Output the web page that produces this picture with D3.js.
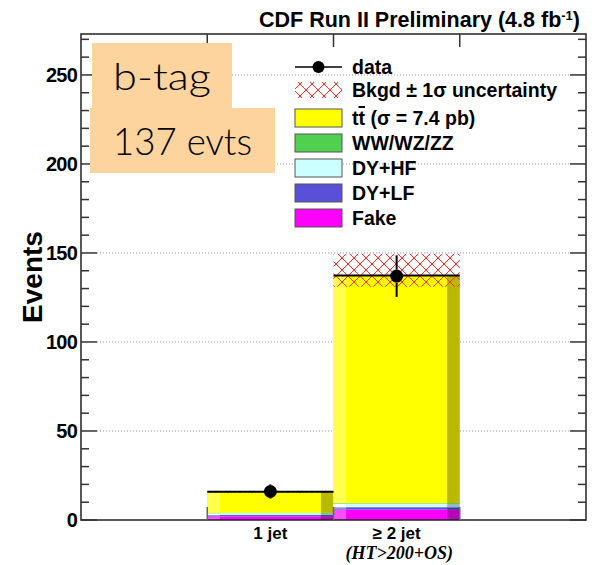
<!DOCTYPE html>
<html lang="en">
<head>
<meta charset="utf-8">
<title>CDF b-tag events</title>
<script src="https://cdn.jsdelivr.net/npm/d3@7"></script>
<style>
  body { margin: 0; background: #fff; }
  text { font-family: "Liberation Sans", Arial, sans-serif; }
</style>
</head>
<body>
<script>
// data
var bins = [1, 2];               // bin low edges (x axis 0..4)
var binLabels = ["1 jet", "\u2265 2 jet"];
var fake = [2.0, 5.8];
var dylf = [0.8, 1.4];
var dyhf = [1.0, 2.0];
var diboson = [0.2, 0.3];
var ttbar = [11.8, 127.8];
var dataVals = [16, 137];
var dataErr = [4, 11.7];
var bkgLo = [15.2, 131.0];
var bkgHi = [16.4, 149.5];
var yTicks = [0, 50, 100, 150, 200, 250];

var components = [
  { name: "Fake", vals: fake, color: "#ff00ff" },
  { name: "DY+LF", vals: dylf, color: "#5a50d8" },
  { name: "DY+HF", vals: dyhf, color: "#ccffff" },
  { name: "WW/WZ/ZZ", vals: diboson, color: "#50d050" },
  { name: "tt", vals: ttbar, color: "#ffff00" }
];

var w = 598, h = 565;
var x = d3.scaleLinear().domain([0, 4]).range([81, 586]);
var y = d3.scaleLinear().domain([0, 273]).range([520, 34]);

var svg = d3.select("body").append("svg")
  .attr("width", w).attr("height", h);

// hatch pattern for the uncertainty band
var pat = svg.append("defs").append("pattern")
  .attr("id", "hatch").attr("patternUnits", "userSpaceOnUse")
  .attr("width", 12).attr("height", 12);
pat.append("path").attr("d", "M0,0L12,12M12,0L0,12")
  .attr("stroke", "#ff3030").attr("stroke-width", 1);

// dotted grid lines
svg.selectAll(".grid").data(yTicks.filter(function(d) { return d > 0; }))
  .enter().append("line")
  .attr("x1", x(0) + 16).attr("x2", x(4) - 16)
  .attr("y1", function(d) { return y(d); }).attr("y2", function(d) { return y(d); })
  .attr("stroke", "#999").attr("stroke-dasharray", "1,2");

// stacked bars, with light left strip and dark right strip
var segs = [];
bins.forEach(function(b, i) {
  var base = 0;
  components.forEach(function(c) {
    segs.push({ bin: b, y0: base, y1: base + c.vals[i], color: c.color });
    base += c.vals[i];
  });
});
var bw = x(1) - x(0);
var strip = 0.1 * bw;
var g = svg.append("g");
segs.forEach(function(s) {
  var x0 = x(s.bin), x1 = x(s.bin + 1);
  var c = d3.hsl(s.color);
  var light = d3.hsl(c.h, c.s, Math.min(1, c.l + 0.15));
  var dark = d3.rgb(s.color).darker(0.9);
  var top = y(s.y1), ht = y(s.y0) - y(s.y1);
  g.append("rect").attr("x", x0).attr("y", top).attr("width", x1 - x0).attr("height", ht)
    .attr("fill", s.color);
  g.append("rect").attr("x", x0).attr("y", top).attr("width", strip).attr("height", ht)
    .attr("fill", light.toString());
  g.append("rect").attr("x", x1 - strip).attr("y", top).attr("width", strip).attr("height", ht)
    .attr("fill", dark.toString());
});

// uncertainty band
svg.selectAll(".unc").data(bins).enter().append("rect")
  .attr("x", function(d) { return x(d); })
  .attr("width", bw)
  .attr("y", function(d, i) { return y(bkgHi[i]); })
  .attr("height", function(d, i) { return y(bkgLo[i]) - y(bkgHi[i]); })
  .attr("fill", "url(#hatch)");

// black line on top of the stack
svg.selectAll(".tot").data(bins).enter().append("line")
  .attr("x1", function(d) { return x(d); })
  .attr("x2", function(d) { return x(d + 1); })
  .attr("y1", function(d, i) { return y(d3.sum(components, function(c) { return c.vals[i]; })); })
  .attr("y2", function(d, i) { return y(d3.sum(components, function(c) { return c.vals[i]; })); })
  .attr("stroke", "#000").attr("stroke-width", 2);

// data points
var r = 6.5;
bins.forEach(function(b, i) {
  var cx = x(b + 0.5), cy = y(dataVals[i]);
  var up = y(dataVals[i] + dataErr[i]), dn = y(dataVals[i] - dataErr[i]);
  if (cy - up > r) svg.append("line").attr("x1", cx).attr("x2", cx).attr("y1", up).attr("y2", cy - r)
    .attr("stroke", "#000").attr("stroke-width", 2);
  if (dn - cy > r) svg.append("line").attr("x1", cx).attr("x2", cx).attr("y1", cy + r).attr("y2", dn)
    .attr("stroke", "#000").attr("stroke-width", 2);
  svg.append("circle").attr("cx", cx).attr("cy", cy).attr("r", r).attr("fill", "#000");
});

// frame and ticks
svg.append("rect").attr("x", x(0)).attr("y", y(273)).attr("width", x(4) - x(0)).attr("height", y(0) - y(273))
  .attr("fill", "none").attr("stroke", "#222").attr("stroke-width", 1.5);
var minor = d3.range(0, 271, 10);
minor.forEach(function(v) {
  var major = v % 50 === 0;
  var len = major ? 16 : 8;
  svg.append("line").attr("x1", x(0)).attr("x2", x(0) + len).attr("y1", y(v)).attr("y2", y(v))
    .attr("stroke", "#333").attr("stroke-width", 1.5);
  svg.append("line").attr("x1", x(4)).attr("x2", x(4) - len).attr("y1", y(v)).attr("y2", y(v))
    .attr("stroke", "#333").attr("stroke-width", 1.5);
});
[1, 2, 3].forEach(function(v) {
  svg.append("line").attr("x1", x(v)).attr("x2", x(v)).attr("y1", y(273)).attr("y2", y(273) + 13)
    .attr("stroke", "#333").attr("stroke-width", 1.5);
  svg.append("line").attr("x1", x(v)).attr("x2", x(v)).attr("y1", y(0)).attr("y2", y(0) - 13)
    .attr("stroke", "#666").attr("stroke-width", 1.5);
});

// y tick labels
svg.selectAll(".ylab").data(yTicks).enter().append("text")
  .attr("x", 77).attr("y", function(d) { return y(d) + 7; })
  .attr("text-anchor", "end").attr("font-size", 20).attr("font-weight", "bold")
  .attr("letter-spacing", -0.8)
  .text(function(d) { return d; });

svg.append("text")
  .attr("transform", "translate(42," + 277 + ") rotate(-90)")
  .attr("text-anchor", "middle").attr("font-size", 28).attr("font-weight", "bold")
  .text("Events");

// x labels
svg.selectAll(".xlab").data(bins).enter().append("text")
  .attr("x", function(d) { return x(d + 0.5); }).attr("y", 539)
  .attr("text-anchor", "middle").attr("font-size", 17).attr("font-weight", "bold")
  .text(function(d, i) { return binLabels[i]; });
svg.append("text").attr("x", x(2.52)).attr("y", 559)
  .attr("text-anchor", "middle").attr("font-size", 18).attr("font-weight", "bold")
  .attr("font-style", "italic").style("font-family", "'Liberation Serif', serif")
  .text("(HT>200+OS)");

// title
var t = svg.append("text").attr("x", 580).attr("y", 27).attr("text-anchor", "end")
  .attr("font-size", 21.5).attr("font-weight", "bold");
t.append("tspan").text("CDF Run II Preliminary (4.8 fb");
t.append("tspan").attr("dy", -7).attr("font-size", 13).text("-1");
t.append("tspan").attr("dy", 7).text(")");

// legend
var lx = 295, lw = 47, tx = 352;
var rows = [67, 90, 118, 143, 168, 193, 218];
svg.append("line").attr("x1", lx).attr("x2", lx + lw).attr("y1", rows[0]).attr("y2", rows[0])
  .attr("stroke", "#000").attr("stroke-width", 1.5);
svg.append("circle").attr("cx", lx + lw / 2).attr("cy", rows[0]).attr("r", 6).attr("fill", "#000");
svg.append("rect").attr("x", lx).attr("y", rows[1] - 8).attr("width", lw).attr("height", 16)
  .attr("fill", "url(#hatch)");
var legComps = components.slice().reverse();
legComps.forEach(function(c, i) {
  svg.append("rect").attr("x", lx).attr("y", rows[i + 2] - 9).attr("width", lw).attr("height", 18)
    .attr("fill", c.color).attr("stroke", "#555").attr("stroke-width", 1);
});
var legText = function(yy) {
  return svg.append("text").attr("x", tx).attr("y", yy + 7).attr("font-size", 19.5).attr("font-weight", "bold");
};
legText(rows[0]).text("data");
legText(rows[1]).text("Bkgd \u00b1 1\u03c3 uncertainty");
var tt = legText(rows[2]);
tt.append("tspan").text("t");
tt.append("tspan").style("text-decoration", "overline").text("t");
tt.append("tspan").text(" (\u03c3 = 7.4 pb)");
legComps.slice(1).forEach(function(c, i) { legText(rows[i + 3]).text(c.name); });

// peach label boxes
svg.append("rect").attr("x", 92).attr("y", 43).attr("width", 140).attr("height", 66).attr("fill", "#fdd39e");
svg.append("rect").attr("x", 90).attr("y", 108).attr("width", 185).attr("height", 65).attr("fill", "#fdd39e");
svg.append("text").attr("x", 113).attr("y", 90).attr("font-size", 37).attr("font-weight", 300)
  .attr("textLength", 98).attr("lengthAdjust", "spacingAndGlyphs")
  .style("font-family", "Lato, 'DejaVu Sans', sans-serif").text("b-tag");
svg.append("text").attr("x", 113).attr("y", 155).attr("font-size", 37).attr("font-weight", 300)
  .attr("textLength", 139).attr("lengthAdjust", "spacingAndGlyphs")
  .style("font-family", "Lato, 'DejaVu Sans', sans-serif").text("137 evts");
</script>
</body>
</html>
